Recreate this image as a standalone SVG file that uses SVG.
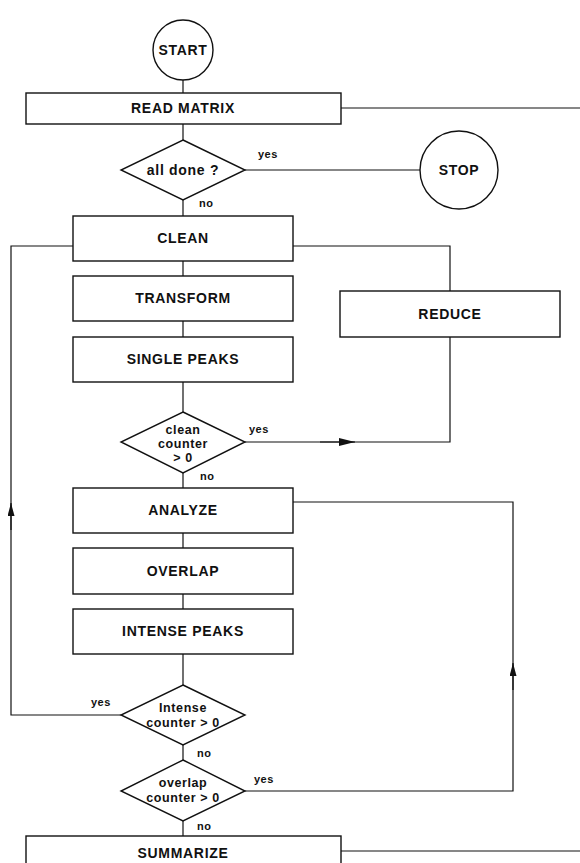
<svg xmlns="http://www.w3.org/2000/svg" width="580" height="863" viewBox="0 0 580 863">
<style>
.shape{fill:#fff;stroke:#111;stroke-width:1.4}
.conn{fill:none;stroke:#111;stroke-width:1.2}
.lbl{font-family:"Liberation Sans",Arial,sans-serif;font-weight:bold;font-size:14px;fill:#111;text-anchor:middle;letter-spacing:0.7px}
.dl{font-family:"Liberation Sans",Arial,sans-serif;font-weight:bold;font-size:12.5px;fill:#111;text-anchor:middle;letter-spacing:0.6px}
.yn{font-family:"Liberation Sans",Arial,sans-serif;font-weight:bold;font-size:11px;fill:#111;letter-spacing:0.5px}
</style>
<defs>
<marker id="arr" markerUnits="userSpaceOnUse" markerWidth="16" markerHeight="8" refX="16" refY="4" orient="auto">
<path d="M0,0 L16,4 L0,8 z" fill="#111"/>
</marker>
<marker id="arrs" markerUnits="userSpaceOnUse" markerWidth="13" markerHeight="7" refX="13" refY="3.5" orient="auto">
<path d="M0,0 L13,3.5 L0,7 z" fill="#111"/>
</marker>
</defs>
<rect width="580" height="863" fill="#fff"/>
<g id="connectors">
<path class="conn" d="M183,80 V93"/>
<path class="conn" d="M183,124 V140"/>
<path class="conn" d="M341,108 H580"/>
<path class="conn" d="M245,170 H420"/>
<path class="conn" d="M183,200 V216"/>
<path class="conn" d="M73,246 H11 V715 H121"/>
<path class="conn" d="M11,530 V503" marker-end="url(#arrs)"/>
<path class="conn" d="M293,246 H450 V291"/>
<path class="conn" d="M183,261 V276"/>
<path class="conn" d="M183,321 V337"/>
<path class="conn" d="M183,382 V412"/>
<path class="conn" d="M450,337 V442 H245"/>
<path class="conn" d="M320,442 H355" marker-end="url(#arr)"/>
<path class="conn" d="M183,473 V488"/>
<path class="conn" d="M183,533 V548"/>
<path class="conn" d="M183,594 V609"/>
<path class="conn" d="M183,654 V685"/>
<path class="conn" d="M183,745 V760"/>
<path class="conn" d="M183,821 V836"/>
<path class="conn" d="M293,502 H513 V791 H245"/>
<path class="conn" d="M513,690 V663" marker-end="url(#arrs)"/>
<path class="conn" d="M341,851 H580"/>
<text class="yn" x="258" y="158">yes</text>
<text class="yn" x="199" y="207">no</text>
<text class="yn" x="249" y="433">yes</text>
<text class="yn" x="200" y="480">no</text>
<text class="yn" x="91" y="706">yes</text>
<text class="yn" x="197" y="757">no</text>
<text class="yn" x="254" y="783">yes</text>
<text class="yn" x="197" y="830">no</text>
</g>
<g id="start"><circle class="shape" cx="183" cy="50" r="30"/><text class="lbl" x="183" y="55">START</text></g>
<g id="read-matrix"><rect class="shape" x="26" y="93" width="315" height="31"/><text class="lbl" x="183" y="113">READ MATRIX</text></g>
<g id="all-done"><polygon class="shape" points="183,140 245,170 183,200 121,170"/><text class="lbl" x="183" y="175">all done ?</text></g>
<g id="stop"><circle class="shape" cx="459" cy="170" r="39"/><text class="lbl" x="459" y="175">STOP</text></g>
<g id="clean"><rect class="shape" x="73" y="216" width="220" height="45"/><text class="lbl" x="183" y="243">CLEAN</text></g>
<g id="transform"><rect class="shape" x="73" y="276" width="220" height="45"/><text class="lbl" x="183" y="303">TRANSFORM</text></g>
<g id="single-peaks"><rect class="shape" x="73" y="337" width="220" height="45"/><text class="lbl" x="183" y="364">SINGLE PEAKS</text></g>
<g id="reduce"><rect class="shape" x="340" y="291" width="220" height="46"/><text class="lbl" x="450" y="319">REDUCE</text></g>
<g id="clean-counter"><polygon class="shape" points="183,412 245,442 183,473 121,442"/><text class="dl" x="183" y="434">clean</text><text class="dl" x="183" y="448">counter</text><text class="dl" x="183" y="462">&gt; 0</text></g>
<g id="analyze"><rect class="shape" x="73" y="488" width="220" height="45"/><text class="lbl" x="183" y="515">ANALYZE</text></g>
<g id="overlap"><rect class="shape" x="73" y="548" width="220" height="46"/><text class="lbl" x="183" y="576">OVERLAP</text></g>
<g id="intense-peaks"><rect class="shape" x="73" y="609" width="220" height="45"/><text class="lbl" x="183" y="636">INTENSE PEAKS</text></g>
<g id="intense-counter"><polygon class="shape" points="183,685 245,715 183,745 121,715"/><text class="dl" x="183" y="712">Intense</text><text class="dl" x="183" y="727">counter &gt; 0</text></g>
<g id="overlap-counter"><polygon class="shape" points="183,760 245,791 183,821 121,791"/><text class="dl" x="183" y="787">overlap</text><text class="dl" x="183" y="802">counter &gt; 0</text></g>
<g id="summarize"><rect class="shape" x="26" y="836" width="315" height="40"/><text class="lbl" x="183" y="858">SUMMARIZE</text></g>
</svg>
